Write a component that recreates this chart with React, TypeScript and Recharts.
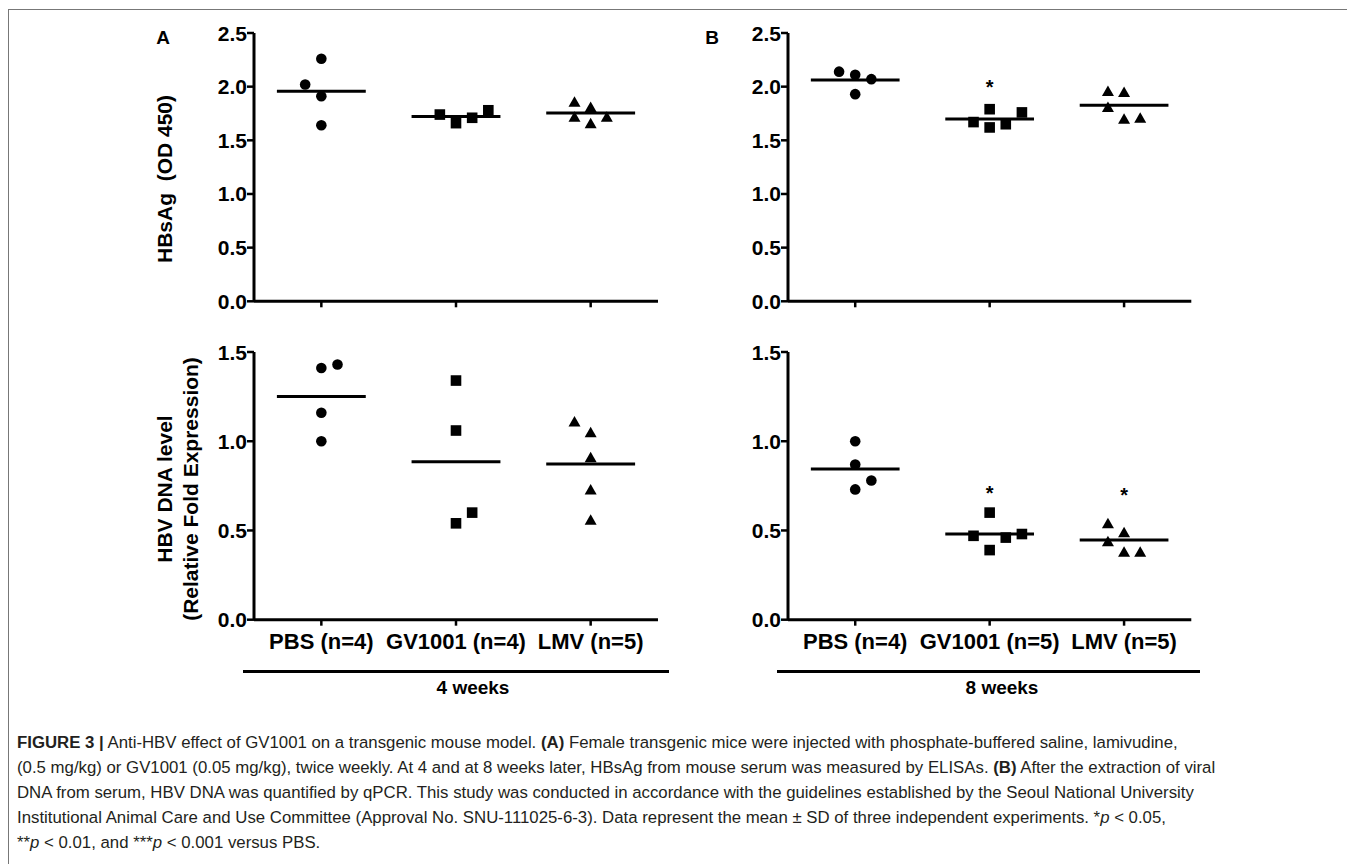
import React from "react";
import { ScatterChart, Scatter, XAxis, YAxis, ReferenceLine } from "recharts";

const groups4w = ["PBS (n=4)", "GV1001 (n=4)", "LMV (n=5)"];
const groups8w = ["PBS (n=4)", "GV1001 (n=5)", "LMV (n=5)"];

const hbsagTicks = [0, 0.5, 1, 1.5, 2, 2.5];
const dnaTicks = [0, 0.5, 1, 1.5];

// HBsAg (OD 450), one inner array per group: PBS, GV1001, LMV
const hbsag4w = [
  [2.02, 2.26, 1.91, 1.64],
  [1.74, 1.66, 1.71, 1.78],
  [1.86, 1.81, 1.72, 1.72, 1.66],
];
const hbsag8w = [
  [2.14, 2.11, 2.07, 1.93],
  [1.67, 1.79, 1.62, 1.65, 1.76],
  [1.96, 1.95, 1.81, 1.70, 1.71],
];

// HBV DNA (relative fold expression)
const dna4w = [
  [1.41, 1.43, 1.16, 1.0],
  [1.34, 1.06, 0.54, 0.6],
  [1.11, 1.05, 0.91, 0.73, 0.56],
];
const dna8w = [
  [1.0, 0.87, 0.78, 0.73],
  [0.6, 0.47, 0.46, 0.48, 0.39],
  [0.54, 0.49, 0.44, 0.38, 0.38],
];

// horizontal spread of the dots inside a group (category units)
const hbsag4wJitter = [
  [-0.12, 0, 0, 0],
  [-0.12, 0, 0.12, 0.24],
  [-0.12, 0, -0.12, 0.12, 0],
];
const hbsag8wJitter = [
  [-0.12, 0, 0.12, 0],
  [-0.12, 0, 0, 0.12, 0.24],
  [-0.12, 0, -0.12, 0, 0.12],
];
const dna4wJitter = [
  [0, 0.12, 0, 0],
  [0, 0, 0, 0.12],
  [-0.12, 0, 0, 0, 0],
];
const dna8wJitter = [
  [0, 0, 0.12, 0],
  [0, -0.12, 0.12, 0.24, 0],
  [-0.12, 0, -0.12, 0, 0.12],
];

// significance marks (* p < 0.05), height where the star sits
const hbsag4wStars: (number | null)[] = [null, null, null];
const hbsag8wStars: (number | null)[] = [null, 2.03, null];
const dna4wStars: (number | null)[] = [null, null, null];
const dna8wStars: (number | null)[] = [null, 0.73, 0.72];

const FONT = "'Liberation Sans', Arial, Helvetica, sans-serif";

const Circle = (p: any) => <circle cx={p.cx} cy={p.cy} r={5.3} fill="#000" />;
const Square = (p: any) => <rect x={p.cx - 5.3} y={p.cy - 5.3} width={10.6} height={10.6} fill="#000" />;
const Triangle = (p: any) => (
  <polygon
    points={`${p.cx},${p.cy - 5.5} ${p.cx + 6},${p.cy + 5} ${p.cx - 6},${p.cy + 5}`}
    fill="#000"
  />
);
const Star = (p: any) => (
  <text x={p.cx} y={p.cy} dy="0.55em" textAnchor="middle" fontSize={20} fontWeight="bold" fontFamily={FONT} fill="#000">
    *
  </text>
);
const shapes = [Circle, Square, Triangle];

interface PanelProps {
  values: number[][];
  jitter: number[][];
  stars: (number | null)[];
  groups: string[];
  ticks: number[];
  showLabels: boolean;
  plotX: number;
  plotY: number;
  plotW: number;
  plotH: number;
}

function Panel({ values, jitter, stars, groups, ticks, showLabels, plotX, plotY, plotW, plotH }: PanelProps) {
  const margin = { top: 12, right: 10, bottom: 5, left: 20 };
  const yAxisW = 60;
  const xAxisH = showLabels ? 45 : 20;
  const width = margin.left + yAxisW + plotW + margin.right;
  const height = margin.top + plotH + xAxisH + margin.bottom;

  const series = values.map((g, i) => g.map((v, j) => ({ x: i + jitter[i][j], y: v })));
  const means = values.map((g) => g.reduce((a, b) => a + b, 0) / g.length);
  const starData = stars
    .map((s, i) => (s == null ? null : { x: i, y: s }))
    .filter((d) => d != null) as { x: number; y: number }[];

  const yTickStyle = { fill: "#000", fontSize: 21, fontWeight: "bold", fontFamily: FONT };
  const xTickStyle = { fill: "#000", fontSize: 22, fontWeight: "bold", fontFamily: FONT };

  return (
    <div style={{ position: "absolute", left: plotX - margin.left - yAxisW - 8, top: plotY - margin.top - 8 }}>
      <ScatterChart width={width} height={height} margin={margin}>
        <XAxis
          type="number"
          dataKey="x"
          domain={[-0.5, 2.5]}
          ticks={[0, 1, 2]}
          height={xAxisH}
          tickFormatter={(v: number) => (showLabels ? groups[v] : "")}
          axisLine={{ stroke: "#000", strokeWidth: 3 }}
          tickLine={{ stroke: "#000", strokeWidth: 2.5 }}
          tickSize={6}
          tickMargin={8}
          tick={xTickStyle}
        />
        <YAxis
          type="number"
          dataKey="y"
          domain={[0, ticks[ticks.length - 1]]}
          ticks={ticks}
          width={yAxisW}
          tickFormatter={(v: number) => v.toFixed(1)}
          axisLine={{ stroke: "#000", strokeWidth: 3 }}
          tickLine={{ stroke: "#000", strokeWidth: 2.5 }}
          tickSize={7}
          tickMargin={0}
          tick={yTickStyle}
        />
        {series.map((d, i) => (
          <Scatter key={i} data={d} shape={shapes[i]} isAnimationActive={false} />
        ))}
        {means.map((m, i) => (
          <ReferenceLine
            key={"m" + i}
            segment={[
              { x: i - 0.33, y: m },
              { x: i + 0.33, y: m },
            ]}
            stroke="#000"
            strokeWidth={3}
          />
        ))}
        {starData.length > 0 && <Scatter data={starData} shape={Star} isAnimationActive={false} />}
      </ScatterChart>
    </div>
  );
}

const abs = (x: number, y: number): React.CSSProperties => ({
  position: "absolute",
  left: x - 8,
  top: y - 8,
  transform: "translate(-50%, -50%)",
  whiteSpace: "pre",
  fontFamily: FONT,
  fontWeight: "bold",
  color: "#000",
});

export default function App() {
  return (
    <div style={{ position: "relative", width: 1339, height: 856, overflow: "hidden" }}>
      <style>{"body{overflow:hidden}"}</style>
      <div
        style={{
          position: "absolute",
          left: 0,
          top: 1,
          width: 1400,
          height: 900,
          borderLeft: "1px solid #777",
          borderTop: "1px solid #777",
        }}
      />

      <Panel values={hbsag4w} jitter={hbsag4wJitter} stars={hbsag4wStars} groups={groups4w} ticks={hbsagTicks}
        showLabels={false} plotX={254} plotY={32.7} plotW={404} plotH={268.3} />
      <Panel values={hbsag8w} jitter={hbsag8wJitter} stars={hbsag8wStars} groups={groups8w} ticks={hbsagTicks}
        showLabels={false} plotX={787.7} plotY={32.7} plotW={403.3} plotH={268.3} />
      <Panel values={dna4w} jitter={dna4wJitter} stars={dna4wStars} groups={groups4w} ticks={dnaTicks}
        showLabels={true} plotX={254} plotY={352.3} plotW={404} plotH={267.7} />
      <Panel values={dna8w} jitter={dna8wJitter} stars={dna8wStars} groups={groups8w} ticks={dnaTicks}
        showLabels={true} plotX={787.7} plotY={352.3} plotW={403.3} plotH={267.7} />

      <div style={{ ...abs(163, 38), fontSize: 19 }}>A</div>
      <div style={{ ...abs(712, 38), fontSize: 19 }}>B</div>

      <div style={{ ...abs(165, 179), fontSize: 21, transform: "translate(-50%, -50%) rotate(-90deg)" }}>
        {"HBsAg  (OD 450)"}
      </div>
      <div
        style={{
          ...abs(178, 489),
          fontSize: 21,
          lineHeight: "26px",
          textAlign: "center",
          transform: "translate(-50%, -50%) rotate(-90deg)",
        }}
      >
        {"HBV DNA level\n(Relative Fold Expression)"}
      </div>

      <div style={{ position: "absolute", left: 243 - 8, top: 669.5 - 8, width: 426, height: 3, background: "#000" }} />
      <div style={{ ...abs(473, 688), fontSize: 19 }}>4 weeks</div>
      <div style={{ position: "absolute", left: 777 - 8, top: 669.5 - 8, width: 423, height: 3, background: "#000" }} />
      <div style={{ ...abs(1002, 688), fontSize: 19 }}>8 weeks</div>

      <div
        style={{
          position: "absolute",
          left: 17 - 8,
          top: 729.5 - 8,
          fontFamily: FONT,
          fontSize: 16.8,
          lineHeight: "25px",
          color: "#231f20",
          whiteSpace: "nowrap",
        }}
      >
        <b>FIGURE 3 |</b> Anti-HBV effect of GV1001 on a transgenic mouse model. <b>(A)</b> Female transgenic mice were
        injected with phosphate-buffered saline, lamivudine,
        <br />
        (0.5 mg/kg) or GV1001 (0.05 mg/kg), twice weekly. At 4 and at 8 weeks later, HBsAg from mouse serum was measured by
        ELISAs. <b>(B)</b> After the extraction of viral
        <br />
        DNA from serum, HBV DNA was quantified by qPCR. This study was conducted in accordance with the guidelines established
        by the Seoul National University
        <br />
        Institutional Animal Care and Use Committee (Approval No. SNU-111025-6-3). Data represent the mean ± SD of three
        independent experiments. *<i>p</i> &lt; 0.05,
        <br />
        **<i>p</i> &lt; 0.01, and ***<i>p</i> &lt; 0.001 versus PBS.
      </div>
    </div>
  );
}
